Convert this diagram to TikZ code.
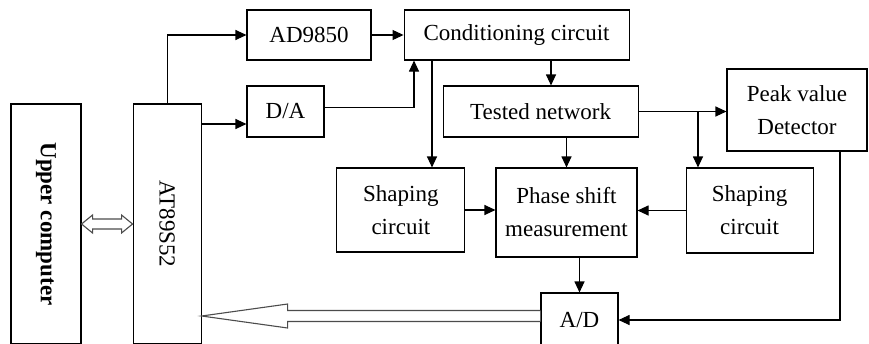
\documentclass[tikz,border=0pt]{standalone}
\usepackage{fontspec}
\setmainfont{Liberation Serif}
\usetikzlibrary{arrows.meta,positioning,calc}
\tikzset{
  blkBox/.style   = {rectangle, draw, line width=1.1pt, fill=white, align=center,
                     inner sep=0pt, font=\fontsize{23}{33}\selectfont},
  blkArrow/.style = {-{Triangle[length=11pt,width=10pt]}, line width=1.1pt},
  fatArrow/.style = {line width=1.1pt, draw=black!70, fill=white, line join=miter},
}
\begin{document}
\begin{tikzpicture}[x=1pt,y=-1pt]
  \useasboundingbox (0,0) rectangle (869,343);
  \clip (0,0) rectangle (869,343);
  % host and controller
  \node[blkBox,minimum width=70,minimum height=240] (upc) at (46,224)
      {\rotatebox{-90}{\bfseries Upper computer}};
  \node[blkBox,minimum width=68,minimum height=240,right=51pt of upc] (mcu)
      {\rotatebox{-90}{AT89S52}};
  % signal path
  \node[blkBox,minimum width=124,minimum height=50] (dds) at (309,35) {AD9850};
  \node[blkBox,minimum width=225,minimum height=50,right=32pt of dds] (cond) {Conditioning circuit};
  \node[blkBox,minimum width=77,minimum height=51] (dac) at (285.5,111.5) {D/A};
  \node[blkBox,minimum width=195,minimum height=51,right=118pt of dac] (tnet) {Tested network};
  \node[blkBox,minimum width=140,minimum height=82] (peak) at (797,110) {Peak value\\Detector};
  \node[blkBox,minimum width=141,minimum height=89] (phs) at (566.5,212.5) {Phase shift\\measurement};
  \node[blkBox,minimum width=128,minimum height=84,anchor=north east] (shl)
      at ($(phs.north west)+(-30,0)$) {Shaping\\circuit};
  \node[blkBox,minimum width=127,minimum height=85,anchor=north west] (shr)
      at ($(phs.north east)+(48,0)$) {Shaping\\circuit};
  \node[blkBox,minimum width=77,minimum height=54] (adc) at (579.5,320) {A/D};
  % columns of the vertical wires
  \coordinate (xd) at (414,0);
  \coordinate (xa) at (432,0);
  \coordinate (xe) at (551,0);
  \coordinate (xb) at (698,0);
  \coordinate (xc) at (840,0);
  \coordinate (dacIn) at ($(dac.west)+(0,12.5)$);
  \coordinate (dacOut) at ($(dac.east)+(0,-4)$);
  \draw[blkArrow](mcu.north) |- (dds.west);
  \draw[blkArrow](mcu.east |- dacIn)--(dacIn);
  \draw[blkArrow](dds)--(cond);
  \draw[blkArrow](dacOut) -| (cond.south -| xd);
  \draw[blkArrow](cond.south -| xa)--(shl.north -| xa);
  \draw[blkArrow](cond.south -| xe)--(tnet.north -| xe);
  \draw[blkArrow](tnet.east)--(peak.west |- tnet.east);
  \draw[blkArrow](tnet.east -| xb)--(shr.north -| xb);
  \draw[blkArrow](tnet.south -| phs.north)--(phs.north);
  \draw[blkArrow](shl.east)--(phs.west |- shl.east);
  \draw[blkArrow](shr.west)--(phs.east |- shr.west);
  \draw[blkArrow](phs.south -| adc.north)--(adc.north);
  \draw[blkArrow](peak.south -| xc) |- (adc.east);
  % data buses
  \draw[fatArrow](upc.east)--++(11,-9)--++(0,4)--($(mcu.west)+(-11,-5)$)--++(0,-4)
      --(mcu.west)--++(-11,9)--++(0,-4)--($(upc.east)+(11,5)$)--++(0,4)--cycle;
  \coordinate (busTail) at ($(adc.west)+(0,-4)$);
  \coordinate (busTip) at ($(mcu.east |- adc.west)+(0,-4)$);
  \draw[fatArrow]($(busTail)+(0,-5.5)$)--($(busTip)+(86,-5.5)$)--++(0,-6.5)--(busTip)
      --++(86,12)--++(0,-6.5)--($(busTail)+(0,5.5)$);
\end{tikzpicture}
\end{document}
